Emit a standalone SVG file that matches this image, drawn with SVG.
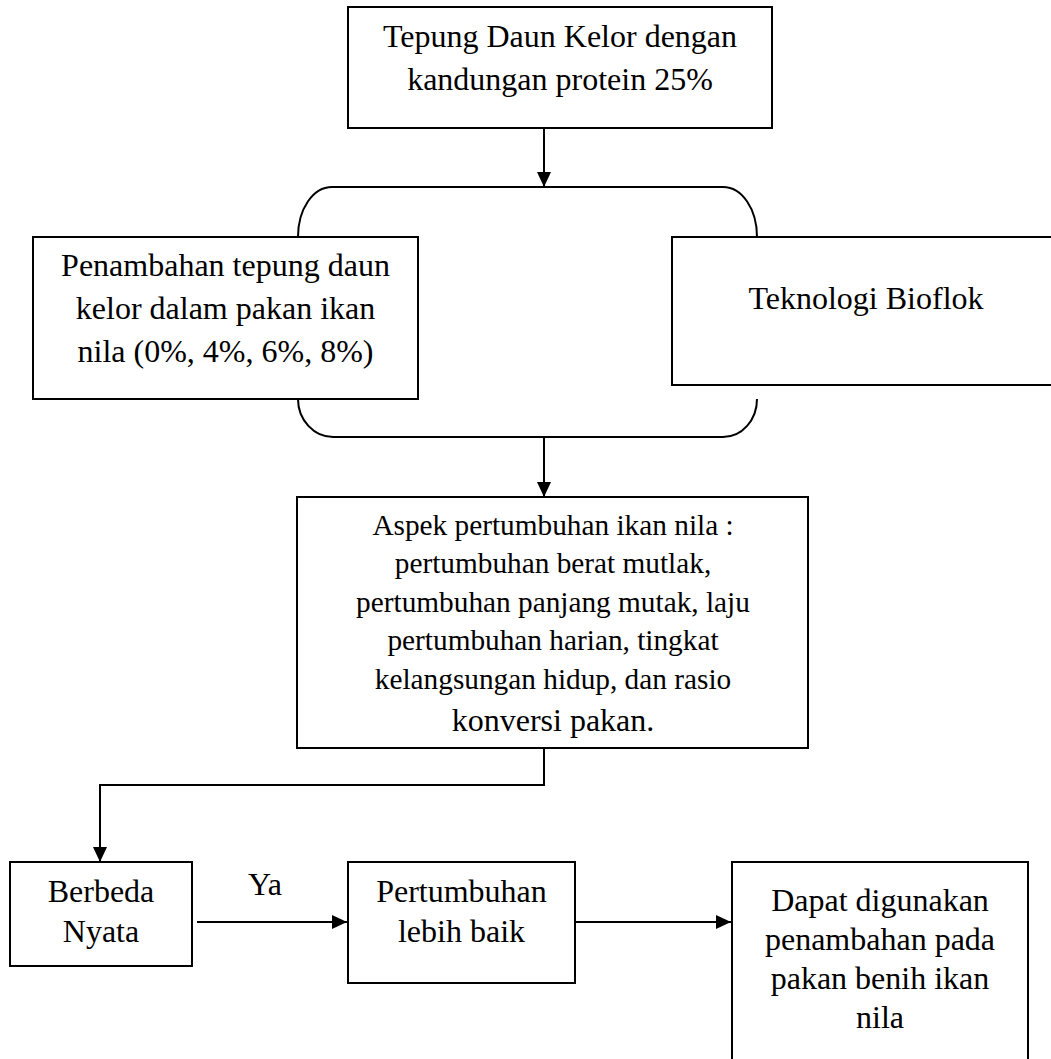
<svg xmlns="http://www.w3.org/2000/svg" width="1051" height="1059" viewBox="0 0 1051 1059">
<defs>
<style>
.box{fill:#fff;stroke:#000;stroke-width:2}
.ln{fill:none;stroke:#000;stroke-width:2}
.t{font-family:"Liberation Serif","Times New Roman",serif;font-size:32px;fill:#000;text-anchor:middle}
.s{font-size:29.3px}
</style>
<marker id="ah" viewBox="0 0 15 14" refX="15" refY="7" markerWidth="15" markerHeight="14" markerUnits="userSpaceOnUse" orient="auto">
<path d="M0,0 L15,7 L0,14 z" fill="#000"/>
</marker>
</defs>
<rect width="1051" height="1059" fill="#fff"/>
<g id="connectors">
<path class="ln" d="M544,128 L544,187" marker-end="url(#ah)"/>
<path class="ln" d="M298,237 C298,209 313,187 332,187 L723,187 C742,187 757,209 757,237"/>
<path class="ln" d="M298,399 C298,420 314,437 333,437 L723,437 C742,437 757,420 757,399"/>
<path class="ln" d="M544,437 L544,497" marker-end="url(#ah)"/>
<path class="ln" d="M544,748 L544,785 L100,785 L100,862" marker-end="url(#ah)"/>
<path class="ln" d="M197,922 L347,922" marker-end="url(#ah)"/>
<path class="ln" d="M575,922 L731,922" marker-end="url(#ah)"/>
<text class="t" x="265" y="895">Ya</text>
</g>
<g id="node-tepung">
<rect class="box" x="348" y="7" width="424" height="121"/>
<text class="t" x="560" y="47">Tepung Daun Kelor dengan</text>
<text class="t" x="560" y="90">kandungan protein 25%</text>
</g>
<g id="node-penambahan">
<rect class="box" x="33" y="237" width="385" height="162"/>
<text class="t" x="225.5" y="276">Penambahan tepung daun</text>
<text class="t" x="225.5" y="319">kelor dalam pakan ikan</text>
<text class="t" x="225.5" y="362">nila (0%, 4%, 6%, 8%)</text>
</g>
<g id="node-bioflok">
<rect class="box" x="672" y="237" width="390" height="148"/>
<text class="t" x="866" y="309">Teknologi Bioflok</text>
</g>
<g id="node-aspek">
<rect class="box" x="297" y="497" width="511" height="251"/>
<text class="t s" x="553" y="535">Aspek pertumbuhan ikan nila :</text>
<text class="t s" x="553" y="573">pertumbuhan berat mutlak,</text>
<text class="t s" x="553" y="612">pertumbuhan panjang mutak, laju</text>
<text class="t s" x="553" y="650">pertumbuhan harian, tingkat</text>
<text class="t s" x="553" y="689">kelangsungan hidup, dan rasio</text>
<text class="t" x="553" y="731">konversi pakan.</text>
</g>
<g id="node-berbeda">
<rect class="box" x="10" y="862" width="182" height="104"/>
<text class="t" x="101" y="902">Berbeda</text>
<text class="t" x="101" y="942">Nyata</text>
</g>
<g id="node-pertumbuhan">
<rect class="box" x="348" y="862" width="227" height="121"/>
<text class="t" x="461.5" y="902">Pertumbuhan</text>
<text class="t" x="461.5" y="942">lebih baik</text>
</g>
<g id="node-dapat">
<rect class="box" x="732" y="862" width="296" height="200"/>
<text class="t" x="880" y="911">Dapat digunakan</text>
<text class="t" x="880" y="950">penambahan pada</text>
<text class="t" x="880" y="989">pakan benih ikan</text>
<text class="t" x="880" y="1028">nila</text>
</g>
</svg>
